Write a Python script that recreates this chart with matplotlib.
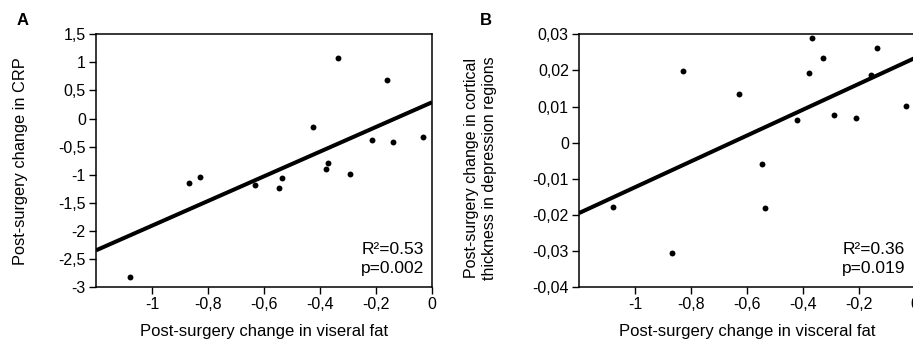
import numpy as np
import matplotlib
matplotlib.use("Agg")
import matplotlib.pyplot as plt

plt.rcParams['font.family'] = ['Liberation Sans', 'DejaVu Sans']

# Panel A data
fat_a = [-1.078, -0.868, -0.830, -0.631, -0.548, -0.536, -0.426, -0.380, -0.370,
         -0.334, -0.293, -0.215, -0.160, -0.140, -0.033]
crp_a = [-2.817, -1.148, -1.036, -1.184, -1.243, -1.065, -0.151, -0.905, -0.786,
         1.072, -0.982, -0.382, 0.686, -0.418, -0.335]

# Panel B data
fat_b = [-1.078, -0.867, -0.829, -0.628, -0.545, -0.533, -0.420, -0.376, -0.366,
         -0.329, -0.289, -0.210, -0.156, -0.134, -0.029]
thick_b = [-0.0178, -0.0305, 0.0197, 0.0134, -0.0059, -0.0182, 0.0063, 0.0193, 0.0289,
           0.0234, 0.0076, 0.0069, 0.0187, 0.0261, 0.0101]

xticks = [-1, -0.8, -0.6, -0.4, -0.2, 0]
xticklabels = ["-1", "-0,8", "-0,6", "-0,4", "-0,2", "0"]
yticks_a = [1.5, 1, 0.5, 0, -0.5, -1, -1.5, -2, -2.5, -3]
yticklabels_a = ["1,5", "1", "0,5", "0", "-0,5", "-1", "-1,5", "-2", "-2,5", "-3"]
yticks_b = [0.03, 0.02, 0.01, 0, -0.01, -0.02, -0.03, -0.04]
yticklabels_b = ["0,03", "0,02", "0,01", "0", "-0,01", "-0,02", "-0,03", "-0,04"]

xlabel_a = "Post-surgery change in viseral fat"
xlabel_b = "Post-surgery change in visceral fat"
ylabel_a = "Post-surgery change in CRP"
ylabel_b = "Post-surgery change in cortical\nthickness in depression regions"
stats_a = "R\u00b2=0.53\np=0.002"
stats_b = "R\u00b2=0.36\np=0.019"

W, H = 913, 340
fig = plt.figure(figsize=(W / 100, H / 100), dpi=100)

def box(l, t, r, b):
    return [l / W, 1 - b / H, (r - l) / W, (b - t) / H]

ax_a = fig.add_axes(box(96, 34.3, 432, 287))
ax_b = fig.add_axes(box(579, 34.3, 914.5, 287))

def style(ax, x, y, yt, ytl, ylim, xlabel, stats, tx):
    ax.scatter(x, y, s=18, color='black', zorder=3, linewidths=0)
    k, c = np.polyfit(x, y, 1)
    xx = np.array([-1.2, 0])
    ax.plot(xx, k * xx + c, color='black', lw=2.9, solid_capstyle='butt')
    ax.set_xlim(-1.2, 0)
    ax.set_ylim(*ylim)
    ax.set_xticks(xticks)
    ax.set_xticklabels(xticklabels)
    ax.set_yticks(yt)
    ax.set_yticklabels(ytl)
    ax.tick_params(direction='out', length=4.8, width=1, labelsize=11.5, pad=2.5)
    for s in ax.spines.values():
        s.set_linewidth(1.1)
    ax.set_xlabel(xlabel, fontsize=12)
    ax.xaxis.set_label_coords(0.5, -0.148)
    ax.text(tx, 0.045, stats, transform=ax.transAxes, ha='right', va='bottom',
            fontsize=12.5, linespacing=1.3)

style(ax_a, fat_a, crp_a, yticks_a, yticklabels_a, (-3, 1.5), xlabel_a, stats_a, 0.976)
style(ax_b, fat_b, thick_b, yticks_b, yticklabels_b, (-0.04, 0.03), xlabel_b, stats_b, 0.972)

fig.text(20.5 / W, 1 - 161 / H, ylabel_a, rotation=90, ha='center', va='center', fontsize=11.75)
fig.text(480.5 / W, 1 - 168 / H, ylabel_b, rotation=90, ha='center', va='center',
         fontsize=11.5, multialignment='center', linespacing=1.2)

fig.text(17 / W, 1 - 20.5 / H, "A", fontsize=12, fontweight='bold', va='center')
fig.text(480 / W, 1 - 20.5 / H, "B", fontsize=12, fontweight='bold', va='center')

fig.savefig("out.png", dpi=100)
